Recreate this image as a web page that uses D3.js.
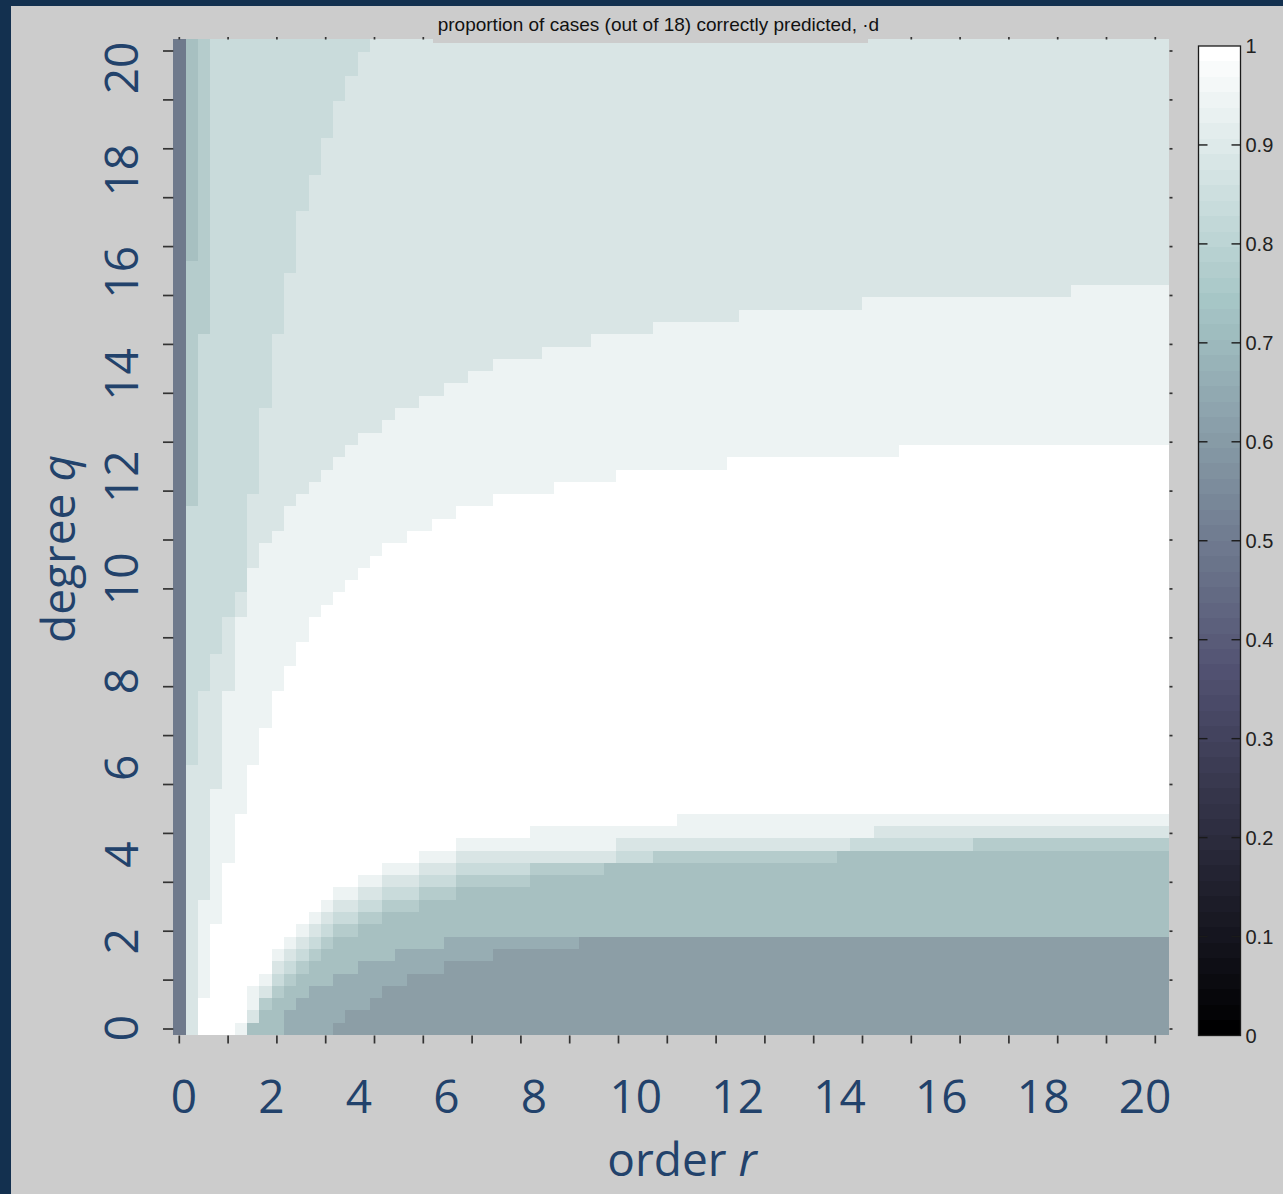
<!DOCTYPE html>
<html><head><meta charset="utf-8">
<script src="https://cdn.jsdelivr.net/npm/d3@7/dist/d3.min.js"></script>
<style>html,body{margin:0;padding:0;background:#cccccc;} svg{display:block;}</style>
</head><body><svg id="chart" width="1283" height="1194"></svg>
<script>
// ---------------- DATA ----------------
// grid: order r (columns) and degree q (rows), step 0.25, 0..20
const rValues = d3.range(81).map(i => i * 0.25);
const qValues = d3.range(81).map(j => j * 0.25);
const totalCases = 18;
const firstColumnCount = 9;   // r = 0 column: 9 of 18 correct
const baseCount = 11;         // bottom-right floor: 11 of 18
// Lower boundaries: [first column index, first row index where count >= k]
const lowB12 = [[1,0],[13,1],[14,2],[16,3],[17,4],[19,5],[22,6],[26,7],[33,8]];
const lowB13 = [[1,0],[9,2],[10,3],[11,4],[13,5],[15,6],[18,7],[22,8]];
const lowB14 = [[1,0],[6,1],[7,2],[8,3],[9,4],[10,5],[11,6],[12,7],[13,8],[15,9],[17,10],[20,11],[23,12],[29,13],[35,14],[54,15]];
const lowB15 = [[1,0],[6,1],[7,3],[8,4],[9,5],[10,6],[11,7],[12,8],[13,9],[15,10],[17,11],[20,12],[23,13],[29,14],[39,15],[65,16]];
const lowB16 = [[1,0],[6,1],[7,3],[8,5],[9,6],[10,7],[11,8],[12,9],[13,10],[15,11],[17,12],[20,13],[23,14],[36,15],[55,16]];
const lowB17 = [[1,0],[6,2],[7,4],[8,6],[9,7],[10,8],[11,9],[12,10],[13,11],[15,12],[17,13],[20,14],[23,15],[36,16],[57,17]];
const lowB18 = [[1,0],[5,1],[6,4],[7,5],[8,7],[9,8],[10,9],[11,10],[12,11],[13,12],[15,13],[17,14],[20,15],[23,16],[29,17],[41,18]];
// Upper boundaries: [first column index, first row index where count drops below k]
const upU18 = [[1,0],[2,3],[3,9],[4,14],[5,18],[6,22],[7,25],[8,28],[9,30],[10,32],[11,34],[12,35],[13,36],[14,37],[15,38],[16,39],[17,40],[19,41],[21,42],[23,43],[26,44],[31,45],[36,46],[45,47],[59,48]];
const upU17 = [[1,0],[2,11],[3,20],[4,28],[5,34],[6,38],[7,40],[8,41],[9,43],[10,44],[11,45],[12,46],[13,47],[14,48],[15,49],[17,50],[18,51],[20,52],[22,53],[24,54],[26,55],[30,56],[34,57],[39,58],[46,59],[56,60],[73,61]];
const upU16 = [[1,22],[2,28],[3,31],[4,34],[5,36],[6,44],[7,51],[8,57],[9,62],[10,67],[11,70],[12,73],[13,76],[14,78],[15,80],[16,81]];
const upU15 = [[1,43],[2,57],[3,81]];
const upU14 = [[1,63],[2,81]];

const axisTicks = d3.range(0, 21);
const axisLabels = d3.range(0, 21, 2);
const colorbarTicks = d3.range(0, 11).map(d => d / 10);
const colorbarLabels = ["0","0.1","0.2","0.3","0.4","0.5","0.6","0.7","0.8","0.9","1"];
const titleText = "proportion of cases (out of 18) correctly predicted, \u00b7d";
const xTitle = ["order ", "r"];
const yTitle = ["degree ", "q"];

// ---------------- STYLE ----------------
const levelColor = d3.scaleOrdinal()
  .domain([9, 11, 12, 13, 14, 15, 16, 17, 18])
  .range(["#6f7a8c", "#8c9ea6", "#97adb3", "#a7c0c1", "#b5cccc", "#c9dbdb", "#d9e5e5", "#edf3f3", "#ffffff"]);
const labelColor = "#22426b";
const bigFont = "'Open Sans', 'DejaVu Sans', sans-serif";
const smallFont = "'Liberation Sans', Arial, sans-serif";

// ---------------- BUILD GRID ----------------
function expand(runs) {
  const a = new Array(rValues.length);
  let k = 0;
  for (let i = 0; i < rValues.length; i++) {
    while (k + 1 < runs.length && runs[k + 1][0] <= i) k++;
    a[i] = runs[k][1];
  }
  return a;
}
const lower = [lowB12, lowB13, lowB14, lowB15, lowB16, lowB17, lowB18].map(expand);
const upper = [upU18, upU17, upU16, upU15, upU14].map(expand);
const grid = rValues.map((r, i) => qValues.map((q, j) => {
  if (i === 0) return firstColumnCount;
  let v = baseCount;
  lower.forEach(b => { if (j >= b[i]) v++; });
  upper.forEach(b => { if (j >= b[i]) v--; });
  return v;
}));

// ---------------- DRAW ----------------
const W = 1283, H = 1194;
const svg = d3.select("#chart");
svg.append("rect").attr("width", W).attr("height", H).attr("fill", "#cccccc");
svg.append("rect").attr("x", 0).attr("y", 0).attr("width", W).attr("height", 6).attr("fill", "#13304f");
svg.append("rect").attr("x", 0).attr("y", 0).attr("width", 11).attr("height", H).attr("fill", "#13304f");

const x = d3.scaleLinear().domain([0, 20]).range([179.3, 1155.3]);
const y = d3.scaleLinear().domain([0, 20]).range([1029, 51]);
const step = 0.25;
const xCell = d3.scaleLinear().domain([-step / 2, 20 + step / 2]).range([173.3, 1169.3]);
const yCell = d3.scaleLinear().domain([-step / 2, 20 + step / 2]).range([1035, 39.3]);

// heatmap as vertical runs per column
const runs = [];
grid.forEach((col, i) => {
  let start = 0;
  for (let j = 1; j <= col.length; j++) {
    if (j === col.length || col[j] !== col[start]) {
      runs.push({ r: rValues[i], q0: qValues[start], q1: qValues[j - 1], v: col[start] });
      start = j;
    }
  }
});
const hm = svg.append("g").attr("shape-rendering", "crispEdges");
hm.selectAll("rect").data(runs).join("rect")
  .attr("x", d => Math.round(xCell(d.r - step / 2)))
  .attr("width", d => Math.round(xCell(d.r + step / 2)) - Math.round(xCell(d.r - step / 2)))
  .attr("y", d => Math.round(yCell(d.q1 + step / 2)))
  .attr("height", d => Math.round(yCell(d.q0 - step / 2)) - Math.round(yCell(d.q1 + step / 2)))
  .attr("fill", d => levelColor(d.v));

// ticks
const tk = svg.append("g").attr("stroke", "#333").attr("stroke-width", 1.7);
tk.selectAll(".lt").data(axisTicks).join("line").attr("class", "lt")
  .attr("x1", 163).attr("x2", 173.3).attr("y1", d => y(d)).attr("y2", d => y(d));
tk.selectAll(".bt").data(axisTicks).join("line").attr("class", "bt")
  .attr("y1", 1035.5).attr("y2", 1043.5).attr("x1", d => x(d)).attr("x2", d => x(d));
tk.selectAll(".tt").data(axisTicks).join("line").attr("class", "tt")
  .attr("y1", 37).attr("y2", 39.5).attr("x1", d => x(d)).attr("x2", d => x(d));
tk.selectAll(".rt").data(axisTicks).join("line").attr("class", "rt")
  .attr("x1", 1169.5).attr("x2", 1172.5).attr("y1", d => y(d)).attr("y2", d => y(d));

// title with its background box
svg.append("rect").attr("x", 433).attr("y", 6).attr("width", 435).attr("height", 37).attr("fill", "#cccccc");
svg.append("text").attr("x", 437.7).attr("y", 31)
  .attr("font-family", smallFont).attr("font-size", 19).attr("fill", "#111")
  .text(titleText);

// tick labels (slide-overlay text positions)
const xLabel = d3.scaleLinear().domain([0, 8, 20]).range([184, 534, 1145]);
const yLabel = d3.scaleLinear().domain([0, 8, 20]).range([1028, 681, 68]);
svg.append("g").selectAll("text").data(axisLabels).join("text")
  .attr("x", d => xLabel(d)).attr("y", 1112.7)
  .attr("text-anchor", "middle").attr("font-family", bigFont).attr("font-size", 46)
  .attr("fill", labelColor).text(d => d);
svg.append("g").selectAll("text").data(axisLabels).join("text")
  .attr("transform", d => `translate(138,${yLabel(d)}) rotate(-90)`)
  .attr("text-anchor", "middle").attr("font-family", bigFont).attr("font-size", 46)
  .attr("fill", labelColor).text(d => d);

// axis titles
const xt = svg.append("text").attr("x", 682).attr("y", 1176).attr("text-anchor", "middle")
  .attr("font-family", bigFont).attr("font-size", 46).attr("fill", labelColor);
xt.append("tspan").text(xTitle[0]);
xt.append("tspan").attr("font-style", "italic").text(xTitle[1]);
const yt = svg.append("text").attr("transform", "translate(75,549) rotate(-90)").attr("text-anchor", "middle")
  .attr("font-family", bigFont).attr("font-size", 46).attr("fill", labelColor);
yt.append("tspan").text(yTitle[0]);
yt.append("tspan").attr("font-style", "italic").text(yTitle[1]);

// colorbar (MATLAB bone, 64 entries)
function bone64(k) {
  const m = 64, n = 24;
  const g = k / (m - 1);
  const hr = Math.min(1, (k + 1) / n);
  const hg = k < n ? 0 : Math.min(1, (k - n + 1) / n);
  const hb = k < 2 * n ? 0 : (k - 2 * n + 1) / (m - 2 * n);
  return d3.rgb(255 * (7 * g + hb) / 8, 255 * (7 * g + hg) / 8, 255 * (7 * g + hr) / 8);
}
const cb = d3.scaleLinear().domain([0, 1]).range([1035.5, 46]);
const cbX0 = 1198.5, cbX1 = 1240.5;
const entries = d3.range(64);
svg.append("g").attr("shape-rendering", "crispEdges").selectAll("rect").data(entries).join("rect")
  .attr("x", cbX0).attr("width", cbX1 - cbX0)
  .attr("y", k => Math.round(cb((k + 1) / 64)))
  .attr("height", k => Math.round(cb(k / 64)) - Math.round(cb((k + 1) / 64)))
  .attr("fill", k => bone64(k));
svg.append("rect").attr("x", cbX0).attr("y", cb(1)).attr("width", cbX1 - cbX0).attr("height", cb(0) - cb(1))
  .attr("fill", "none").attr("stroke", "#1a1a1a").attr("stroke-width", 1.3);
const cbt = svg.append("g").attr("stroke", "#1a1a1a").attr("stroke-width", 1.4);
cbt.selectAll(".l").data(colorbarTicks.slice(1, -1)).join("line").attr("class", "l")
  .attr("x1", cbX0).attr("x2", cbX0 + 9).attr("y1", d => cb(d)).attr("y2", d => cb(d));
cbt.selectAll(".r").data(colorbarTicks.slice(1, -1)).join("line").attr("class", "r")
  .attr("x1", cbX1 - 9).attr("x2", cbX1).attr("y1", d => cb(d)).attr("y2", d => cb(d));
svg.append("g").selectAll("text").data(colorbarTicks).join("text")
  .attr("x", 1245.5).attr("y", d => cb(d)).attr("dy", "0.36em")
  .attr("font-family", smallFont).attr("font-size", 20).attr("fill", "#222")
  .text((d, i) => colorbarLabels[i]);
</script>
</body></html>
